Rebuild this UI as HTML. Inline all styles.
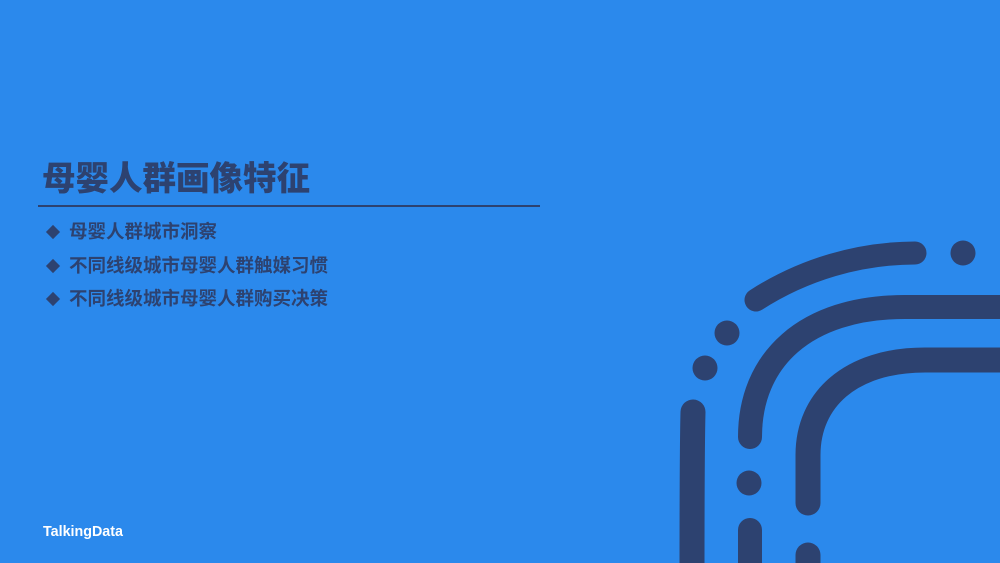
<!DOCTYPE html>
<html><head><meta charset="utf-8"><style>
html,body{margin:0;padding:0}
body{width:1000px;height:563px;overflow:hidden;background:#2B89EC;position:relative;font-family:"Liberation Sans","Noto Sans CJK SC",sans-serif;color:#2D4270}
.t{position:absolute;left:42px;top:151px;font-size:33.5px;font-weight:900;white-space:nowrap}
.rule{position:absolute;left:38px;top:205px;width:502px;height:2px;background:#2D4270}
.b{position:absolute;left:46px;font-size:18.5px;font-weight:bold;white-space:nowrap}
.b span.d{display:inline-block;width:10px;height:10px;background:#2D4270;transform:rotate(45deg);margin:0 11px 2px 2px;vertical-align:middle}
.logo{position:absolute;left:43px;top:524px;font-size:14.3px;font-weight:bold;color:#fff}
svg{position:absolute;left:0;top:0}
</style></head><body>
<div class="t">母婴人群画像特征</div>
<div class="rule"></div>
<div class="b" style="top:218px"><span class="d"></span>母婴人群城市洞察</div>
<div class="b" style="top:252px"><span class="d"></span>不同线级城市母婴人群触媒习惯</div>
<div class="b" style="top:285px"><span class="d"></span>不同线级城市母婴人群购买决策</div>
<div class="logo">TalkingData</div>
<svg width="1000" height="563">
<g stroke="#2D4270" stroke-linecap="round" fill="none">
<path d="M756 300 A296 296 0 0 1 915 253" stroke-width="23"/>
<path d="M750 437 C750 360 805 307 905 307 L1010 307" stroke-width="24"/>
<path d="M808 503 L808 455 C808 400 850 360 925 360 L1010 360" stroke-width="25"/>
<path d="M693 412 C692 450 692 500 692 580" stroke-width="25"/>
<path d="M750 530 L750 580" stroke-width="24"/>
<path d="M808 555 L808 580" stroke-width="25"/>
</g>
<g fill="#2D4270">
<circle cx="963" cy="253" r="12.5"/>
<circle cx="727" cy="333" r="12.5"/>
<circle cx="705" cy="368" r="12.5"/>
<circle cx="749" cy="483" r="12.5"/>
</g>
</svg>
</body></html>
